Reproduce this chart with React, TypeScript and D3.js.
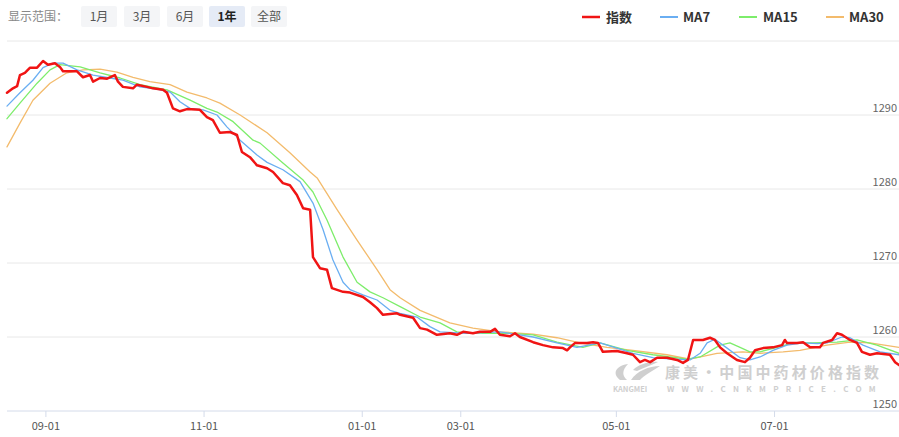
import React from "react";
import * as d3 from "d3";

// ---- data (x = trading-day index, y = index value) ----
const tickDays = [15, 76, 137, 175, 235, 296];
const tickLabels = ["09-01", "11-01", "01-01", "03-01", "05-01", "07-01"];
const yTicks = [1250, 1260, 1270, 1280, 1290, 1300];
const rangeButtons = ["1月", "3月", "6月", "1年", "全部"];
const activeButton = "1年";

const indexSeries: [number, number][] = [
  [0, 1293.0], [2.3, 1293.6], [3.9, 1293.9], [5, 1295.4], [6.9, 1295.7], [8.9, 1296.4],
  [11.6, 1296.4], [13.9, 1297.3], [15.8, 1296.8], [18.5, 1297.0], [20.4, 1296.5], [21.6, 1295.9],
  [27, 1295.9], [29.3, 1295.1], [32, 1295.4], [33.2, 1294.5], [35.9, 1295.0], [38.6, 1294.9],
  [41.6, 1295.4], [42.8, 1294.5], [44.7, 1293.8], [48.6, 1293.6], [50.1, 1294.1], [54, 1293.8],
  [56.3, 1293.6], [60.2, 1293.4], [61.7, 1293.0], [64, 1290.9], [66.7, 1290.5], [69.4, 1290.8],
  [74.4, 1290.7], [77.1, 1289.7], [79.4, 1289.3], [82.1, 1287.6], [86, 1287.7], [88.7, 1287.3],
  [90.6, 1285.0], [93.7, 1284.3], [96.4, 1283.2], [100.3, 1282.8], [102.6, 1282.3], [106.4, 1280.8],
  [109.1, 1280.5], [111.8, 1279.2], [114.2, 1277.4], [116.9, 1277.2], [118, 1270.8], [120.7, 1269.3],
  [123.4, 1269.1], [125.3, 1266.6], [129.6, 1266.1], [132.3, 1266.0], [137.3, 1265.4], [140, 1264.7],
  [142.7, 1263.9], [145, 1263.0], [150.4, 1263.2], [151.6, 1263.0], [156.6, 1262.6], [159.3, 1261.2],
  [162, 1261.0], [165.8, 1260.3], [170.8, 1260.5], [173.5, 1260.3], [175.9, 1260.7], [179.7, 1260.5],
  [182.4, 1260.7], [186.3, 1260.7], [188.2, 1261.1], [190.1, 1260.3], [194, 1260.1], [195.9, 1260.5],
  [197.8, 1260.0], [202.9, 1259.3], [206.7, 1258.9], [210.6, 1258.6], [214.4, 1258.5], [216, 1258.2],
  [217.1, 1258.6], [219.1, 1259.2], [223.7, 1259.2], [226, 1259.3], [227.9, 1259.2], [229.8, 1258.0],
  [235.2, 1258.1], [239.1, 1257.8], [241.4, 1257.6], [244.1, 1256.6], [246, 1256.9], [248, 1256.6],
  [250.7, 1257.2], [254.5, 1257.2], [258.4, 1256.9], [260.7, 1256.5], [262.6, 1256.9], [264.6, 1259.6],
  [268.4, 1259.6], [271.1, 1259.9], [273, 1259.6], [275, 1258.6], [277.7, 1257.8], [281.5, 1256.9],
  [284.6, 1256.6], [286.5, 1257.2], [288.5, 1258.2], [291.6, 1258.5], [295.4, 1258.6], [298.9, 1258.9],
  [300, 1259.6], [300.8, 1259.2], [304.7, 1259.2], [307, 1259.3], [309.7, 1258.6], [313.5, 1258.6],
  [314.7, 1259.2], [318.2, 1259.6], [320.1, 1260.5], [322, 1260.3], [325.1, 1259.6], [327.8, 1259.2],
  [329.7, 1258.0], [332.8, 1257.6], [335.5, 1257.8], [340.5, 1257.6], [342.5, 1256.6], [344, 1256.2],
];

const ma7Series: [number, number][] = [
  [0, 1291.2], [5, 1293.0], [10, 1294.7], [13.9, 1296.4], [17.7, 1297.0], [21.6, 1297.0],
  [27, 1296.1], [33.2, 1295.4], [39.7, 1295.0], [44.7, 1294.7], [51.3, 1293.8], [57.8, 1293.5],
  [62.9, 1293.1], [66.7, 1291.8], [70.6, 1290.9], [75.6, 1290.7], [81, 1290.0], [84.8, 1288.4],
  [89.9, 1286.6], [96.4, 1284.6], [100.3, 1283.6], [106.4, 1282.6], [113, 1281.0], [118, 1278.1],
  [121.9, 1274.5], [125.7, 1270.4], [129.6, 1267.4], [132.3, 1266.4], [137.3, 1265.7], [142.7, 1265.0],
  [147.7, 1263.6], [151.6, 1263.2], [158.1, 1262.7], [163.1, 1261.4], [167, 1260.7], [177.4, 1260.5],
  [190.1, 1260.7], [202.9, 1260.0], [212.1, 1259.2], [219.8, 1258.6], [228.7, 1259.2], [235.2, 1258.5],
  [241.4, 1257.8], [249.1, 1257.2], [256.8, 1257.0], [263.4, 1256.9], [267.3, 1257.8], [270, 1259.2],
  [273, 1259.7], [277.7, 1258.5], [282.7, 1257.2], [286.5, 1256.9], [290.4, 1257.3], [295.4, 1258.2],
  [300.8, 1258.9], [307, 1259.2], [312.4, 1259.1], [316.2, 1259.2], [322, 1260.0], [325.1, 1259.9],
  [330.1, 1258.9], [336.7, 1258.0], [344, 1257.6],
];

const ma15Series: [number, number][] = [
  [0, 1289.5], [5, 1291.6], [11.6, 1294.3], [16.6, 1296.1], [20.4, 1296.8], [28.2, 1296.5],
  [35.9, 1295.7], [43.6, 1295.0], [51.3, 1294.1], [61.7, 1293.4], [70.6, 1292.0], [77.1, 1290.9],
  [81, 1290.4], [87.2, 1289.1], [94.9, 1286.6], [97.6, 1286.2], [106.4, 1283.5], [114.2, 1281.2],
  [118, 1279.6], [123.4, 1275.8], [129.6, 1270.8], [135, 1267.4], [140, 1266.1], [145, 1265.3],
  [151.6, 1264.1], [159.3, 1262.7], [167, 1261.9], [173.5, 1260.7], [183.6, 1260.5], [194, 1260.5],
  [202.9, 1260.3], [212.1, 1259.3], [222.1, 1258.6], [228.7, 1259.2], [239.1, 1258.2], [249.1, 1257.6],
  [262.2, 1257.0], [267.3, 1257.3], [275, 1258.9], [278.8, 1259.2], [282.7, 1258.6], [286.5, 1258.0],
  [290.4, 1258.0], [297, 1258.6], [303.1, 1259.2], [310.8, 1259.2], [320.1, 1259.3], [327.8, 1259.6],
  [335.5, 1258.9], [344, 1257.8],
];

const ma30Series: [number, number][] = [
  [0, 1285.7], [5, 1288.9], [10, 1292.0], [16.6, 1294.3], [23.1, 1295.7], [29.3, 1296.1],
  [35.9, 1296.2], [42.4, 1295.8], [48.6, 1295.1], [55.1, 1294.5], [62.9, 1294.1], [69.4, 1293.1],
  [77.1, 1292.3], [82.1, 1291.6], [89.9, 1290.0], [100.3, 1287.6], [109.1, 1284.9], [116.9, 1282.3],
  [119.6, 1281.5], [127.3, 1277.2], [135, 1273.1], [142.7, 1269.1], [147.7, 1266.4], [151.6, 1265.3],
  [159.3, 1263.6], [170.8, 1261.9], [179.7, 1261.2], [190.1, 1260.7], [202.9, 1260.4], [212.1, 1259.9],
  [221, 1259.2], [231.4, 1258.6], [241.4, 1258.2], [254.5, 1257.6], [263.4, 1257.0], [273.8, 1257.8],
  [283.8, 1258.0], [290.4, 1257.8], [299.3, 1258.0], [305.8, 1258.2], [316.2, 1258.9], [325.1, 1259.3],
  [332.8, 1259.2], [344, 1258.6],
];

const seriesNames = ["指数", "MA7", "MA15", "MA30"];
const seriesColors = ["#f01414", "#6aaef2", "#7ded6b", "#f3bb6c"];
const seriesData = [indexSeries, ma7Series, ma15Series, ma30Series];

const W = 899;
const H = 437;
const FONT = "'Noto Sans CJK SC', 'Noto Sans', sans-serif";

export default function App() {
  const x = d3.scaleLinear().domain([0, 344]).range([7, 899]);
  const y = d3.scaleLinear().domain([1250, 1300]).range([411, 41]);
  const line = d3
    .line<[number, number]>()
    .x((d) => x(d[0]))
    .y((d) => y(d[1]))
    .curve(d3.curveLinear);

  const btnX = [81, 124, 167, 209, 251];
  const legendX = [582, 660, 739, 826];
  const legendTextX = [606, 683, 763, 849];

  return (
    <div style={{ position: "absolute", left: 0, top: 0 }}>
      <svg width={W} height={H} style={{ display: "block", background: "#fff" }} fontFamily={FONT}>
        {/* toolbar */}
        <text x={8} y={21} fontSize={12} fill="#888">显示范围：</text>
        {rangeButtons.map((b, i) => (
          <g key={b}>
            <rect x={btnX[i]} y={6} width={36} height={21} rx={2}
              fill={b === activeButton ? "#e5ebf6" : "#f4f5f7"} />
            <text x={btnX[i] + 18} y={21} fontSize={12} textAnchor="middle"
              fill={b === activeButton ? "#222" : "#555"} fontWeight={b === activeButton ? 700 : 400}>
              {b}
            </text>
          </g>
        ))}
        {/* legend */}
        {seriesNames.map((n, i) => (
          <g key={n}>
            <line x1={legendX[i]} x2={legendX[i] + 18} y1={17} y2={17}
              stroke={seriesColors[i]} strokeWidth={i === 0 ? 2.5 : 2} />
            <text x={legendTextX[i]} y={22} fontSize={13} fontWeight={700} fill="#333">{n}</text>
          </g>
        ))}
        {/* grid */}
        {yTicks.map((t) => (
          <g key={t}>
            <line x1={7} x2={899} y1={y(t)} y2={y(t)}
              stroke={t === 1250 ? "#d4dbea" : "#e8e8e8"} strokeWidth={1} />
            {t !== 1300 && (
              <text x={897} y={y(t) - 3} fontSize={11} textAnchor="end" fill="#666">{t}</text>
            )}
          </g>
        ))}
        {/* x ticks */}
        {tickDays.map((d, i) => (
          <g key={tickLabels[i]}>
            <line x1={x(d)} x2={x(d)} y1={y(1250)} y2={y(1250) + 6} stroke="#d4dbea" />
            <text x={x(d)} y={430} fontSize={11} textAnchor="middle" fill="#555">{tickLabels[i]}</text>
          </g>
        ))}
        {/* watermark */}
        <g opacity={0.8} fill="#c4c4c4">
          <path d="M620,380 C612,374 615,366 628,364 C623,369 621,375 627,380 Z" />
          <path d="M631,380 C637,371 649,366 660,366 C653,371 644,375 640,380 Z" />
          <path d="M633,370 C639,364 650,361 658,362 C652,365 643,368 637,371 Z" />
          <text x={665} y={378} fontSize={15} fontWeight={700} letterSpacing={3.1}>康美·中国中药材价格指数</text>
          <text x={613} y={392} fontSize={7.5} fontWeight={700}>KANGMEI</text>
          <text x={667} y={392} fontSize={8} fontWeight={700} letterSpacing={7.3}>WWW.CNKMPRICE.COM</text>
        </g>
        {/* series (draw MAs under index) */}
        {[3, 2, 1, 0].map((i) => (
          <path key={seriesNames[i]} d={line(seriesData[i]) || ""} fill="none"
            stroke={seriesColors[i]} strokeWidth={i === 0 ? 2.5 : 1.3}
            strokeLinejoin="round" strokeLinecap="round" />
        ))}
      </svg>
    </div>
  );
}
